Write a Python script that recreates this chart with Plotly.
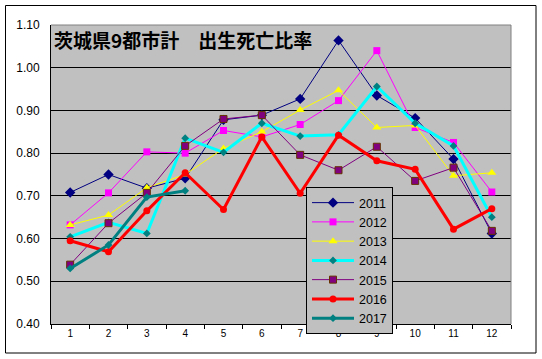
import plotly.graph_objects as go

months = ["1", "2", "3", "4", "5", "6", "7", "8", "9", "10", "11", "12"]
y2011 = [0.708, 0.750, 0.718, 0.741, 0.878, 0.889, 0.927, 1.064, 0.935, 0.882, 0.786, 0.612]
y2012 = [0.632, 0.707, 0.803, 0.800, 0.853, 0.838, 0.867, 0.923, 1.040, 0.860, 0.825, 0.709]
y2013 = [0.632, 0.655, 0.719, 0.750, 0.811, 0.850, 0.901, 0.947, 0.860, 0.865, 0.747, 0.754]
y2014 = [0.604, 0.638, 0.612, 0.835, 0.802, 0.870, 0.840, 0.843, 0.956, 0.870, 0.817, 0.650]
y2015 = [0.539, 0.636, 0.707, 0.817, 0.880, 0.889, 0.796, 0.760, 0.815, 0.735, 0.766, 0.618]
y2016 = [0.595, 0.569, 0.665, 0.754, 0.668, 0.838, 0.706, 0.842, 0.782, 0.762, 0.622, 0.670]
y2017 = [0.530, 0.585, 0.697, 0.712]
y_ticks = [0.4, 0.5, 0.6, 0.7, 0.8, 0.9, 1.0, 1.1]
title_text = "茨城県9都市計　出生死亡比率"

series = [
    ("2011", y2011, "#000080", 1, "diamond", 8, "#000080"),
    ("2012", y2012, "#FF00FF", 1, "square", 7, "#FF00FF"),
    ("2013", y2013, "#FFFF00", 1, "triangle-up", 8, "#FFFF00"),
    ("2014", y2014, "#00FFFF", 3, "diamond", 6, "#008080"),
    ("2015", y2015, "#800080", 1, "square", 7, "#800080"),
    ("2016", y2016, "#FF0000", 3, "circle", 7, "#FF0000"),
    ("2017", y2017, "#008080", 3, "diamond", 6, "#008080"),
]

fig = go.Figure()
for name, vals, color, lw, sym, ms, mcol in series:
    line_col = mcol if name != "2015" else "#663300"
    fig.add_trace(go.Scatter(
        x=months[:len(vals)], y=vals, name=name, mode="lines+markers",
        line=dict(color=color, width=lw),
        marker=dict(symbol=sym, size=ms, color=mcol,
                    line=dict(color=line_col, width=1 if name == "2015" else 0)),
    ))

W, H = 542, 359
L, R, T, B = 51, 31, 25, 35
pw, ph = W - L - R, H - T - B

def px(x):
    return (x - L) / pw

def py(y):
    return 1 - (y - T) / ph

fig.update_layout(
    width=W, height=H,
    margin=dict(l=L, r=R, t=T, b=B, autoexpand=False),
    paper_bgcolor="white",
    plot_bgcolor="#C0C0C0",
    font=dict(family="Liberation Sans, Arial", color="black"),
    showlegend=True,
    legend=dict(
        x=px(306), y=py(187), xanchor="left", yanchor="top",
        bgcolor="#C0C0C0", bordercolor="black", borderwidth=1,
        font=dict(size=12.5, color="black", family="Liberation Sans, Arial"),
        tracegroupgap=0, itemwidth=42,
    ),
    xaxis=dict(
        type="category", categoryorder="array", categoryarray=months,
        showgrid=False, showline=True, linecolor="black", linewidth=1,
        ticks="outside", tickson="boundaries", ticklen=4, tickcolor="black",
        tickfont=dict(size=10, color="black"), mirror=False, zeroline=False,
        range=[-0.5, 11.5],
    ),
    yaxis=dict(
        range=[0.4, 1.1], tickvals=y_ticks, tickformat=".2f",
        showgrid=True, gridcolor="black", gridwidth=1,
        showline=True, linecolor="black", linewidth=1,
        ticks="", tickfont=dict(size=12, color="black"), zeroline=False,
        ticklabelstandoff=8,
    ),
    shapes=[
        dict(type="rect", xref="paper", yref="paper",
             x0=px(5.5), x1=px(536), y0=py(353), y1=py(5.5),
             line=dict(color="black", width=1), fillcolor="rgba(0,0,0,0)", layer="below"),
        dict(type="line", xref="paper", yref="paper", x0=0, x1=1, y0=1, y1=1,
             line=dict(color="#808080", width=1)),
        dict(type="line", xref="paper", yref="paper", x0=1, x1=1, y0=0, y1=1,
             line=dict(color="#808080", width=1)),
    ],
    annotations=[
        dict(text="<b>" + title_text + "</b>", xref="paper", yref="paper",
             x=px(52), y=py(24), xanchor="left", yanchor="top", showarrow=False,
             font=dict(size=19, color="black", family="Noto Sans CJK JP")),
    ],
)

fig.write_html("out.html", config={"displayModeBar": False},
               post_script="document.body.style.margin='0';")
